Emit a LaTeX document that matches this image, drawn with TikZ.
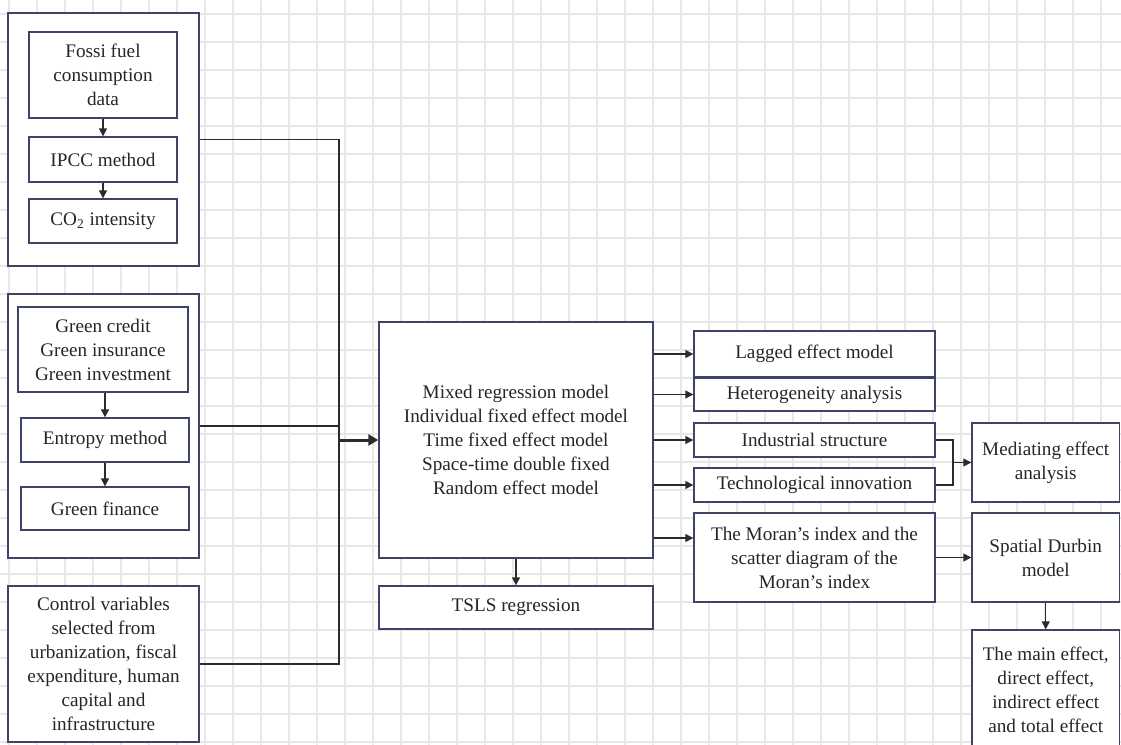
\documentclass[tikz,border=0pt]{standalone}
\usepackage{fontspec}
\setmainfont{Liberation Serif}
\usetikzlibrary{arrows.meta,calc,positioning}
\definecolor{boxline}{HTML}{3D4468}
\definecolor{wirecol}{HTML}{2B2B2B}
\definecolor{gridgrey}{HTML}{E7E7E7}

\begin{document}
\begin{tikzpicture}[x=0.5pt,y=-0.5pt]

\tikzset{box/.style={draw=boxline,fill=white,line width=0.7pt,inner sep=0pt,align=center,text=black!85,font=\fontsize{9.6}{12}\selectfont},
sz/.style 2 args={minimum width=#1*0.5pt,minimum height=#2*0.5pt},
link/.style={draw=wirecol,line width=0.7pt},
arr/.style={link,-{Triangle[length=4pt,width=4pt]}},
bigarr/.style={link,line width=1.5pt,-{Triangle[length=5pt,width=5.5pt]}}}

\useasboundingbox (0,0) rectangle (1121,745);
\clip (0,0) rectangle (1121,745);

% Grid
\foreach \x in {9,37,...,1121} \draw[gridgrey,line width=0.6pt] (\x,0) -- (\x,745);
\foreach \y in {14,42,...,745} \draw[gridgrey,line width=0.6pt] (0,\y) -- (1121,\y);

% Left groups
\node[box,sz={191}{253}] (g1) at (103.5,139.5) {};
\node[box,sz={148}{86}] (fossil) at (103,75) {Fossi fuel\\consumption\\data};
\node[box,sz={148}{45}] (ipcc) at (103,159.5) {IPCC method};
\node[box,sz={148}{44}] (co2) at (103,221) {CO\textsubscript{2} intensity};

\node[box,sz={191}{264}] (g2) at (103.5,426) {};
\node[box,sz={170}{85}] (gcredit) at (103,349.5) {Green credit\\Green insurance\\Green investment};
\node[box,sz={168}{44}] (entropy) at (105,440) {Entropy method};
\node[box,sz={168}{43}] (gfin) at (105,508.5) {Green finance};

\node[box,sz={191}{156}] (ctrl) at (103.5,664) {Control variables\\selected from\\urbanization, fiscal\\expenditure, human\\capital and\\infrastructure};

% Middle
\node[box,sz={274}{236}] (main) at (516,440) {Mixed regression model\\Individual fixed effect model\\Time fixed effect model\\Space-time double fixed\\Random effect model};
\node[box,sz={274}{43}] (tsls) at (516,607.5) {TSLS regression};

% Right column
\node[box,sz={241}{46}] (lag) at (814.5,354) {Lagged effect model};
\node[box,sz={241}{33}] (het) at (814.5,394.5) {Heterogeneity analysis};
\node[box,sz={241}{34}] (ind) at (814.5,440) {Industrial structure};
\node[box,sz={241}{34}] (tech) at (814.5,485) {Technological innovation};
\node[box,sz={241}{89}] (moran) at (814.5,557.5) {The Moran’s index and the\\scatter diagram of the\\Moran’s index};
\node[box,sz={147.5}{79}] (med) at (1045.75,462.5) {Mediating effect\\analysis};
\node[box,sz={147.5}{89}] (sdm) at (1045.75,557.5) {Spatial Durbin\\model};
\node[box,sz={147.5}{120}] (eff) at (1045.75,690) {The main effect,\\direct effect,\\indirect effect\\and total effect};

% Edges
\draw[arr] (fossil) -- (ipcc); \draw[arr] (ipcc) -- (co2);
\draw[arr] (gcredit.south -| entropy) -- (entropy); \draw[arr] (entropy) -- (gfin);

\coordinate (bus) at (339,440);
\draw[link] (g1.east) -| (bus); \draw[link] (g2.east) -| (bus); \draw[link] (ctrl.east) -| (bus);
\draw[bigarr] (bus) -- (main.west);
\draw[arr] (main.south -| tsls) -- (tsls);

\draw[arr] (main.east |- lag.west) -- (lag.west);
\draw[arr] (main.east |- het.west) -- (het.west);
\draw[arr] (main.east |- ind.west) -- (ind.west);
\draw[arr] (main.east |- tech.west) -- (tech.west);
\coordinate (moranin) at ($(moran.west)+(0,-19.5)$);
\draw[arr] (main.east |- moranin) -- (moranin);

\coordinate (merge) at (953,462.5);
\draw[link] (ind.east) -| (merge) |- (tech.east);
\draw[arr] (merge) -- (med.west);
\draw[arr] (moran) -- (sdm); \draw[arr] (sdm) -- (eff);

\end{tikzpicture}
\end{document}
